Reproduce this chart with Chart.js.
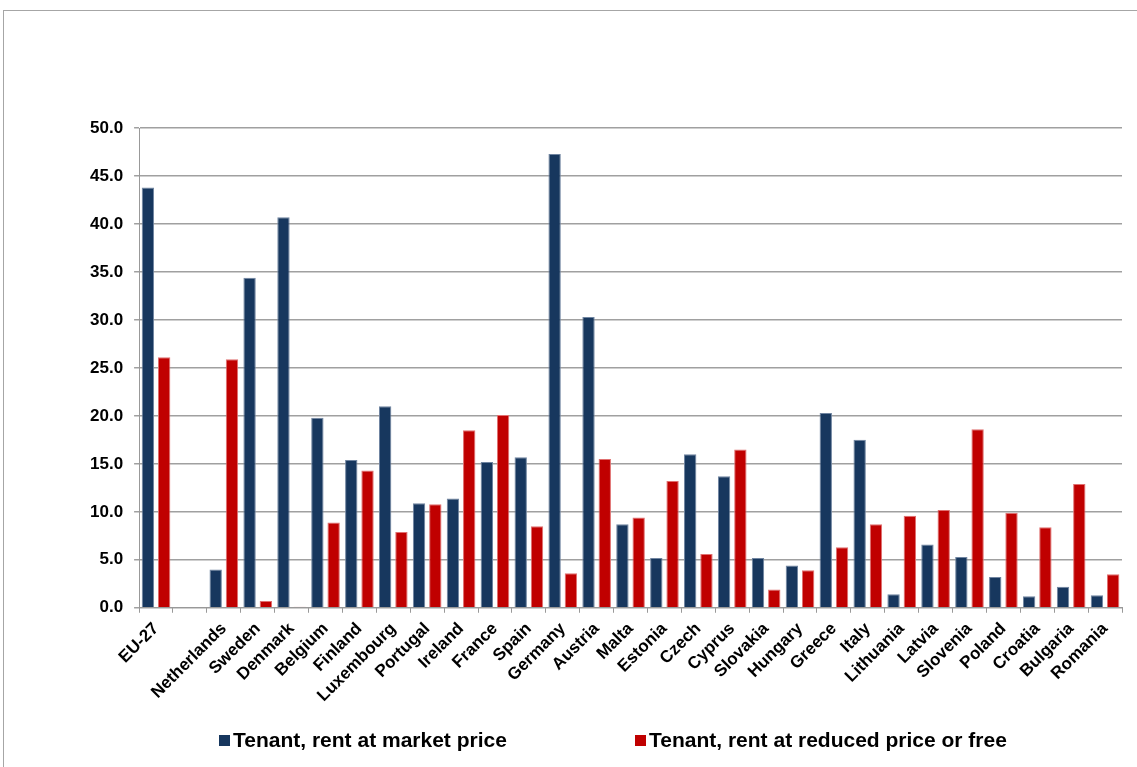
<!DOCTYPE html>
<html>
<head>
<meta charset="utf-8">
<script src="https://cdn.jsdelivr.net/npm/chart.js@4.4.1/dist/chart.umd.min.js"></script>
<style>
  html, body { margin: 0; padding: 0; background: #fff; }
  .frame { position: absolute; left: 3px; top: 10px; width: 1200px; height: 800px; border: 1px solid #a6a6a6; }
  .wrap { position: absolute; left: 0; top: 0; width: 1137px; height: 767px; }
  .leyenda-item {
    position: absolute; top: 728px; display: flex; align-items: center;
    font: bold 21px 'Liberation Sans', Arial, sans-serif; line-height: 24px; color: #000;
    white-space: nowrap;
  }
  .leyenda-caja { width: 11px; height: 11px; margin-right: 3px; }
</style>
</head>
<body>
<div class="frame"></div>
<div class="wrap"><canvas id="grafico"></canvas></div>
<div id="leyenda"></div>
<script>
// paises (la columna vacia separa EU-27 del resto)
const paises = ['EU-27', '', 'Netherlands', 'Sweden', 'Denmark', 'Belgium', 'Finland', 'Luxembourg',
    'Portugal', 'Ireland', 'France', 'Spain', 'Germany', 'Austria', 'Malta', 'Estonia', 'Czech',
    'Cyprus', 'Slovakia', 'Hungary', 'Greece', 'Italy', 'Lithuania', 'Latvia', 'Slovenia',
    'Poland', 'Croatia', 'Bulgaria', 'Romania'];

const precioMercado = [43.8, null, 4.0, 34.4, 40.7, 19.8, 15.4, 21.0, 10.9, 11.4, 15.2, 15.7, 47.3,
    30.3, 8.7, 5.2, 16.0, 13.7, 5.2, 4.4, 20.3, 17.5, 1.4, 6.6, 5.3, 3.2, 1.2, 2.2, 1.3];

const precioReducido = [26.1, null, 25.9, 0.7, 0.1, 8.9, 14.3, 7.9, 10.8, 18.5, 20.1, 8.5, 3.6,
    15.5, 9.4, 13.2, 5.6, 16.5, 1.9, 3.9, 6.3, 8.7, 9.6, 10.2, 18.6, 9.9, 8.4, 12.9, 3.5];

const serieNombres = ['Tenant, rent at market price', 'Tenant, rent at reduced price or free'];
const serieColores = ['#17375E', '#C00000'];

const ejeY = { min: 0, max: 50, paso: 5 };

const fuente = "'Liberation Sans', Arial, sans-serif";

const ctx = document.getElementById('grafico').getContext('2d');
const grafico = new Chart(ctx, {
    type: 'bar',
    data: {
        labels: paises,
        datasets: [
            {
                label: serieNombres[0],
                data: precioMercado,
                backgroundColor: serieColores[0],
                borderColor: '#6f84a0',
                borderWidth: { top: 1, left: 1, right: 1, bottom: 0 },
                categoryPercentage: 0.96,
                barPercentage: 0.76,
            },
            {
                label: serieNombres[1],
                data: precioReducido,
                backgroundColor: serieColores[1],
                borderColor: '#e07070',
                borderWidth: { top: 1, left: 1, right: 1, bottom: 0 },
                categoryPercentage: 0.96,
                barPercentage: 0.76,
            },
        ],
    },
    options: {
        responsive: true,
        maintainAspectRatio: false,
        animation: false,
        layout: { padding: { top: 128, left: 79, right: 15, bottom: 55 } },
        plugins: {
            tooltip: { enabled: false },
            legend: { display: false },
        },
        scales: {
            x: {
                grid: {
                    drawOnChartArea: false,
                    drawTicks: true,
                    tickLength: 5,
                    color: '#999',
                },
                border: { color: '#999' },
                ticks: {
                    color: '#000',
                    font: { family: fuente, size: 17, weight: 'bold' },
                    minRotation: 45,
                    maxRotation: 45,
                    autoSkip: false,
                    padding: 6,
                },
            },
            y: {
                min: ejeY.min,
                max: ejeY.max,
                grid: {
                    color: '#a0a0a0',
                    lineWidth: 1.5,
                    tickLength: 5,
                },
                border: { color: '#999' },
                ticks: {
                    stepSize: ejeY.paso,
                    color: '#000',
                    font: { family: fuente, size: 17, weight: 'bold' },
                    padding: 11,
                    callback: (v) => v.toFixed(1),
                },
            },
        },
    },
});

// leyenda abajo, con el mismo espaciado que el original
const posicionesLeyenda = [219, 635];
const leyenda = document.getElementById('leyenda');
grafico.data.datasets.forEach((ds, i) => {
    const item = document.createElement('div');
    item.className = 'leyenda-item';
    item.style.left = posicionesLeyenda[i] + 'px';
    const caja = document.createElement('span');
    caja.className = 'leyenda-caja';
    caja.style.background = ds.backgroundColor;
    item.appendChild(caja);
    item.appendChild(document.createTextNode(ds.label));
    leyenda.appendChild(item);
});
</script>
</body>
</html>
